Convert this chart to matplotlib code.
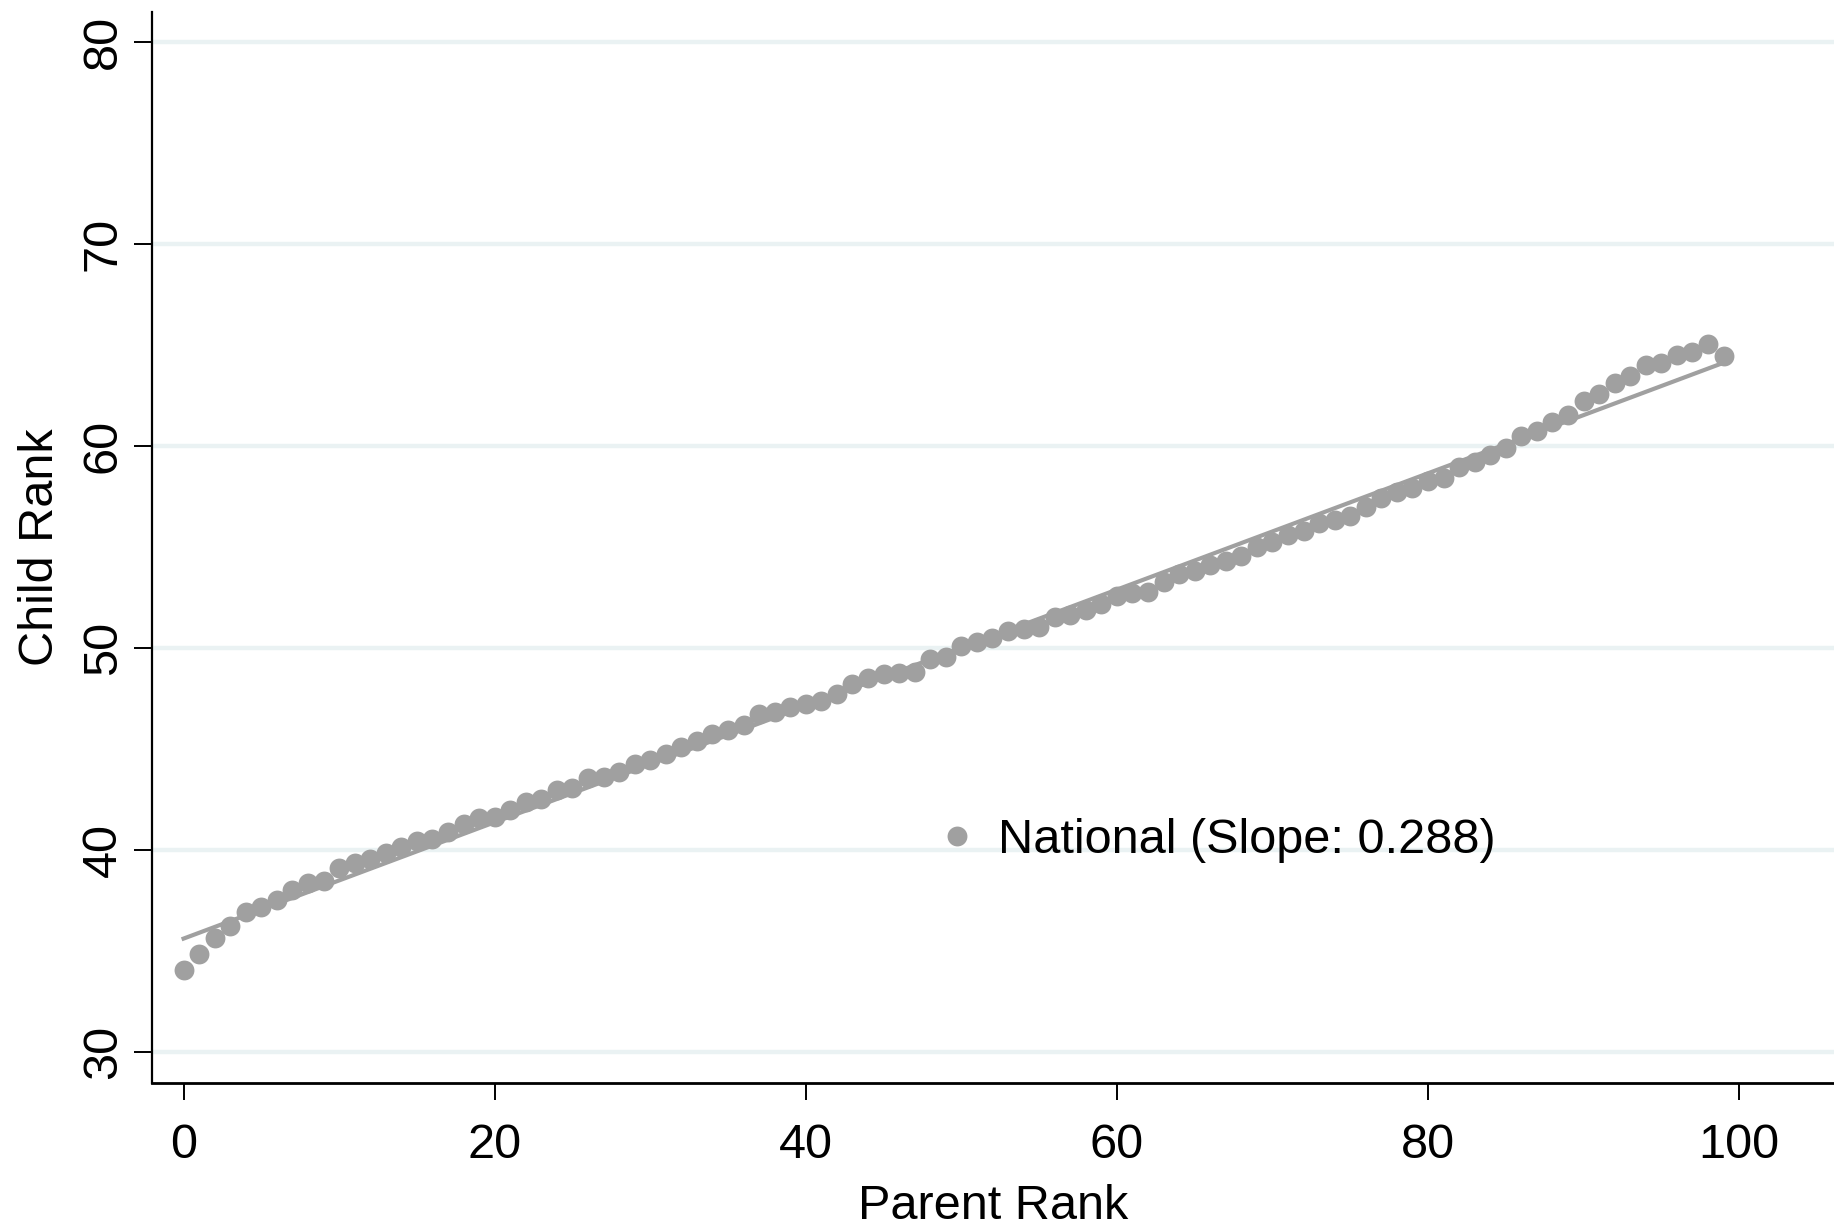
import numpy as np
import matplotlib
matplotlib.use("Agg")
import matplotlib.pyplot as plt

plt.rcParams['font.family'] = ['Liberation Sans', 'DejaVu Sans']

parent_rank = list(range(100))
child_rank = [
    34.08, 34.87, 35.64, 36.22, 36.96, 37.18, 37.51, 38.03, 38.36, 38.46,
    39.12, 39.38, 39.56, 39.86, 40.17, 40.47, 40.55, 40.88, 41.28, 41.58,
    41.62, 41.98, 42.40, 42.53, 42.97, 43.07, 43.55, 43.63, 43.88, 44.26,
    44.45, 44.78, 45.11, 45.41, 45.74, 45.93, 46.20, 46.76, 46.84, 47.09,
    47.26, 47.38, 47.74, 48.21, 48.50, 48.73, 48.78, 48.81, 49.44, 49.56,
    50.10, 50.31, 50.51, 50.84, 50.97, 51.04, 51.53, 51.63, 51.88, 52.19,
    52.57, 52.73, 52.78, 53.27, 53.68, 53.84, 54.10, 54.33, 54.54, 54.99,
    55.25, 55.61, 55.81, 56.19, 56.35, 56.52, 57.01, 57.46, 57.75, 57.92,
    58.28, 58.44, 58.99, 59.23, 59.56, 59.89, 60.50, 60.75, 61.21, 61.54,
    62.25, 62.61, 63.14, 63.46, 64.01, 64.14, 64.50, 64.67, 65.08, 64.47,
]
fit_intercept = 35.62
fit_slope = 0.288
legend_label = "National (Slope: 0.288)"
x_ticks = [0, 20, 40, 60, 80, 100]
y_ticks = [30, 40, 50, 60, 70, 80]

gray = "#a0a0a0"
grid_color = "#eaf2f3"

fig = plt.figure(figsize=(18.34, 12.27), dpi=100)
ax = fig.add_axes([152/1834, 1 - 1083/1227, 1 - 152/1834, (1083 - 12)/1227])

ax.set_xlim(-2.03, 106.1)
ax.set_ylim(28.47, 81.5)

for yt in y_ticks:
    ax.axhline(yt, color=grid_color, lw=3.2, zorder=0)

x = np.array(parent_rank)
fit_x = np.array([x.min(), x.max()])
ax.plot(fit_x, fit_intercept + fit_slope * fit_x, color=gray, lw=3.0, zorder=2)
ax.plot(x, child_rank, 'o', color=gray, ms=14.3, mew=0, zorder=3,
        label=legend_label)

ax.spines['top'].set_visible(False)
ax.spines['right'].set_visible(False)
ax.spines['left'].set_linewidth(1.6)
ax.spines['bottom'].set_linewidth(2.0)

ax.set_xticks(x_ticks)
ax.set_yticks(y_ticks)
ax.tick_params(axis='x', length=12.5, width=1.4, pad=16, labelsize=35)
ax.tick_params(axis='y', length=13, width=1.4, pad=6, labelsize=35)
for lbl in ax.get_yticklabels():
    lbl.set_rotation(90)
    lbl.set_va('center')

ax.set_xlabel("Parent Rank", fontsize=35, labelpad=12)
ax.set_ylabel("Child Rank", fontsize=35, labelpad=13)

leg = ax.legend(loc='center left', bbox_to_anchor=(0.4709, 0.2262),
                frameon=False, fontsize=35, handlelength=0.55,
                handletextpad=0.55, borderpad=0, borderaxespad=0,
                markerscale=1.0)

fig.savefig("out.png", dpi=100)
